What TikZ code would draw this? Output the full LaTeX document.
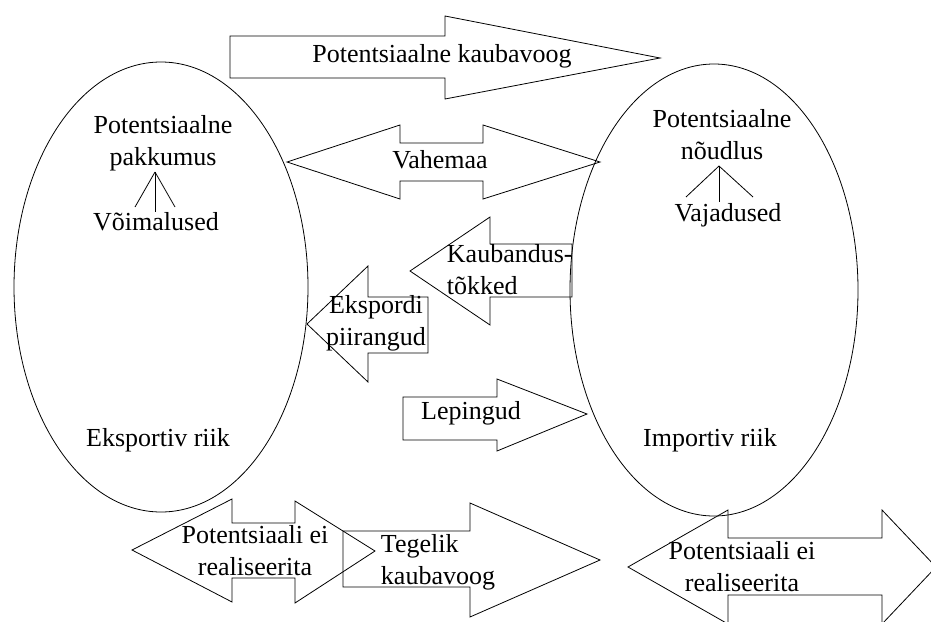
\documentclass[tikz,border=0pt]{standalone}
\usepackage{fontspec}
\setmainfont{Liberation Serif}
\usepackage{tikz}

\tikzset{
  blockarrow/.style={draw, line width=0.8pt, line join=miter},
  roundline/.style={draw, line width=0.8pt},
  txt/.style={font=\fontsize{26}{32}\selectfont, align=center, inner sep=0.75pt}
}

\begin{document}
\begin{tikzpicture}[x=1pt,y=1pt,yscale=-1,xscale=1]
\useasboundingbox (0,0) rectangle (931,621);

%Ellipse [exporting country]
\draw [roundline] (161,287) ellipse [x radius=147pt, y radius=225pt];
%Ellipse [importing country]
\draw [roundline] (714,290) ellipse [x radius=144pt, y radius=226pt];

%Shape: Right Arrow [potential flow]
\draw [blockarrow] (230,36) -- (445,36) -- (445,16) -- (660,58) -- (445,99) -- (445,78) -- (230,78) -- cycle ;
%Shape: Left Right Arrow [distance]
\draw [blockarrow] (287,162) -- (400,125) -- (400,143) -- (483,143) -- (483,125) -- (600,162) -- (483,199) -- (483,181) -- (400,181) -- (400,199) -- cycle ;
%Shape: Left Arrow [trade barriers]
\draw [blockarrow] (410,271) -- (490,217) -- (490,244) -- (572,244) -- (572,297) -- (490,297) -- (490,325) -- cycle ;
%Shape: Left Arrow [export limits]
\draw [blockarrow] (307,324) -- (368,266) -- (368,297) -- (428,297) -- (428,353) -- (368,353) -- (368,382) -- cycle ;
%Shape: Right Arrow [contracts]
\draw [blockarrow] (403,397) -- (497,397) -- (497,379) -- (587,414) -- (497,451) -- (497,440) -- (403,440) -- cycle ;
%Shape: Left Right Arrow [lost potential, left]
\draw [blockarrow] (132,550) -- (232,499) -- (232,523) -- (295,523) -- (295,501) -- (375,551) -- (295,603) -- (295,578) -- (232,578) -- (232,602) -- cycle ;
%Shape: Right Arrow [real flow]
\draw [blockarrow] (343,531) -- (470,531) -- (470,503) -- (600,560) -- (470,617) -- (470,587) -- (343,587) -- cycle ;
%Shape: Left Right Arrow [lost potential, right]
\draw [blockarrow] (628,567) -- (728,510) -- (728,538) -- (882,538) -- (882,510) -- (936,567) -- (882,624) -- (882,595) -- (728,595) -- (728,624) -- cycle ;

% Text Node
\node [txt] (flow) at (442,56) {Potentsiaalne kaubavoog};
% Text Node
\node [txt] (supply) at (163,143) {Potentsiaalne\\pakkumus};
% Text Node
\node [txt] (chances) at (156,222) {Võimalused};
% Text Node
\node [txt] (demand) at (722,135) {Potentsiaalne\\nõudlus};
% Text Node
\node [txt] (needs) at (728,215) {Vajadused};
% Text Node
\node [txt] (distance) at (440,160) {Vahemaa};
% Text Node
\node [txt, align=left, anchor=west] (barriers) at (446,270) {Kaubandus-\\tõkked};
% Text Node
\node [txt] (exlimits) at (376,323) {Ekspordi\\piirangud};
% Text Node
\node [txt] (contracts) at (471,413) {Lepingud};
% Text Node
\node [txt] (exporter) at (158,440) {Eksportiv riik};
% Text Node
\node [txt] (importer) at (710,440) {Importiv riik};
% Text Node
\node [txt] (lostleft) at (255,551) {Potentsiaali ei\\realiseerita};
% Text Node
\node [txt, align=left, anchor=west] (realflow) at (380,562) {Tegelik\\kaubavoog};
% Text Node
\node [txt] (lostright) at (742,567) {Potentsiaali ei\\realiseerita};

%Straight Lines [supply tree]
\coordinate (supplytip) at (155,172);
\coordinate (supplyleft) at (135,207);
\coordinate (supplyright) at (175,207);
\draw [roundline] (supplytip) -- (supplyleft) ;
\draw [roundline] (supplytip) -- (supplyright) ;
\draw [roundline] (supplytip) -- (chances.north -| supplytip) ;
%Straight Lines [demand tree]
\coordinate (demandtip) at (719,166);
\coordinate (demandleft) at (686,197);
\coordinate (demandright) at (753,197);
\draw [roundline] (demandtip) -- (demandleft) ;
\draw [roundline] (demandtip) -- (demandright) ;
\draw [roundline] (demandtip) -- (needs.north -| demandtip) ;

\end{tikzpicture}
\end{document}
